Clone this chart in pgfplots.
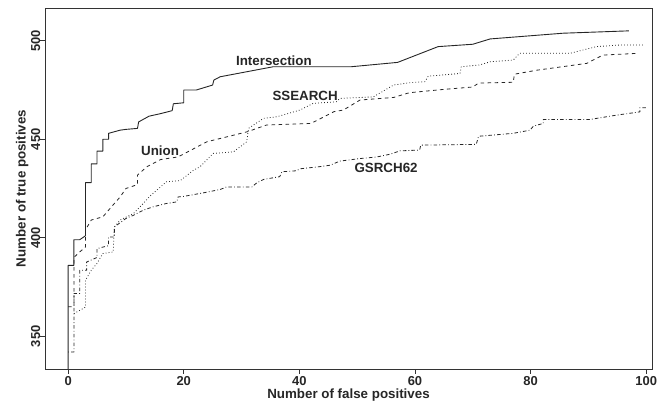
\documentclass[border=0pt]{standalone}
\usepackage{fontspec}
\setmainfont{Liberation Sans}
\usepackage{pgfplots}
\pgfplotsset{compat=1.18}
\begin{document}
\begin{tikzpicture}
\useasboundingbox (0,0) rectangle (667bp,403bp);
\begin{axis}[
  at={(45bp,34bp)}, anchor=south west,
  scale only axis, width=607bp, height=361bp,
  xmin=-4, xmax=101, ymin=333.4, ymax=516.6,
  xtick={0,20,40,60,80,100}, ytick={350,400,450,500},
  tick align=outside, xtick pos=left, ytick pos=left,
  major tick length=5bp,
  axis line style={black!80, line width=0.9bp},
  every tick/.style={black!80, line width=0.9bp},
  tick label style={font=\fontsize{13}{15}\selectfont\bfseries, text=black!85},
  /pgf/number format/assume math mode=true,
  yticklabel style={rotate=90, anchor=base},
  xticklabel style={anchor=north, inner sep=2.5bp},
  xlabel={Number of false positives}, ylabel={Number of true positives},
  label style={font=\fontsize{13.4}{15}\selectfont\bfseries, text=black!85},
  xlabel style={at={(axis description cs:0.5,0)}, anchor=base, yshift=-30bp},
  ylabel style={at={(axis description cs:-0.0321,0.5)}, anchor=base},
  every axis plot/.append style={black!85, line width=0.8bp, line join=round},
]
% Intersection
\addplot[solid, line width=0.9bp] coordinates {
(0,300) (0,386) (1,386) (1,399) (2,399) (3,401) (3,428) (4,428) (4,437.5) (5,437.5) (5,444) (6,444) (6,450) (7,450) (7,453) (9,454.6) (10,455) (12,455.5) (12.2,458.8) (14,461.7) (16,463) (18,464.5) (18.2,468) (20,468.5) (20,475) (22.2,475) (25,477.5) (25.2,480) (26.3,481.7) (35.5,486.8) (49,486.8) (57,489) (64,497) (70,498.2) (73,500.9) (85.6,503.8) (97,505)
};
% Union
\addplot[dash pattern=on 3.5bp off 3.5bp] coordinates {
(0,365) (1,365) (1,390) (2,392.8) (3,395.3) (3,404) (4,409) (6,410.6) (7,414) (8,417.4) (9,420.7) (10,425) (12,427) (12,431.8) (13.6,436) (16,439.7) (19,441) (24,448.7) (31,453.8) (34.3,457.2) (42,458) (46,464) (47.6,464.8) (50.5,469.9) (56.3,471.2) (59,473.6) (65,475.3) (70,476.5) (71,478.5) (77,478.9) (77.2,483) (81,485) (89.7,488.5) (92.5,492.7) (98.6,493.6)
};
% SSEARCH
\addplot[dash pattern=on 0.8bp off 2.2bp] coordinates {
(1,361.5) (3,364.8) (3,378.4) (4,383.5) (5,387) (6,392) (7.8,392.8) (8,405.5) (9,409) (11.3,412.3) (13,417.4) (14,420.7) (17,428.4) (19.4,429) (21.7,434.3) (22.8,436) (25.1,442.8) (28.6,443.6) (30.9,448.7) (31.2,455.5) (33.8,460.6) (36.1,461.4) (40.1,464.8) (42.4,468.2) (46.4,469) (47,470.7) (52.8,471.5) (56.3,477.5) (59.1,478.7) (61.7,479.2) (62.3,482) (67.8,483.4) (68,486.8) (71.2,487.7) (73,489.3) (77,490.2) (78.1,493.6) (86.8,493.6) (91.4,497) (95.4,497.8) (99.7,497.8)
};
% GSRCH62
\addplot[dash pattern=on 0.8bp off 2.2bp on 3.5bp off 2.2bp] coordinates {
(0,342) (1,342) (1,371.7) (2,371.7) (2,383.5) (3.2,383.5) (3.2,387.7) (5,390) (5,394.5) (7,396) (7,400.4) (8,400.4) (8,405.5) (10,409.8) (11.3,411.4) (13,414) (14.7,415.7) (17,417.4) (18.8,418.2) (19,420.7) (20,421) (23.4,422.8) (26.3,424.5) (27.4,425.8) (31.8,425.8) (32.6,427.8) (33.8,429.6) (36.6,431) (37,433.5) (39.5,434) (40.1,435) (43.3,436) (45.3,436.8) (47,438.9) (50.5,440.2) (53.4,441) (55.7,442.4) (57.4,444.1) (60.8,444.5) (61,447) (70.6,447.4) (71,451.5) (77,453) (79.9,454.6) (80.5,456.7) (82.2,458) (82.2,460) (90.2,460) (94.8,462.2) (98.9,463.9) (98.9,466) (100,466)
};
\node[font=\fontsize{13.4}{15}\selectfont\bfseries, text=black!85] at (axis cs:35.6,489.7) {Intersection};
\node[font=\fontsize{13.4}{15}\selectfont\bfseries, text=black!85] at (axis cs:41,471.9) {SSEARCH};
\node[font=\fontsize{13.4}{15}\selectfont\bfseries, text=black!85] at (axis cs:15.9,444) {Union};
\node[font=\fontsize{13.4}{15}\selectfont\bfseries, text=black!85] at (axis cs:55,435.3) {GSRCH62};
\end{axis}
\end{tikzpicture}
\end{document}
